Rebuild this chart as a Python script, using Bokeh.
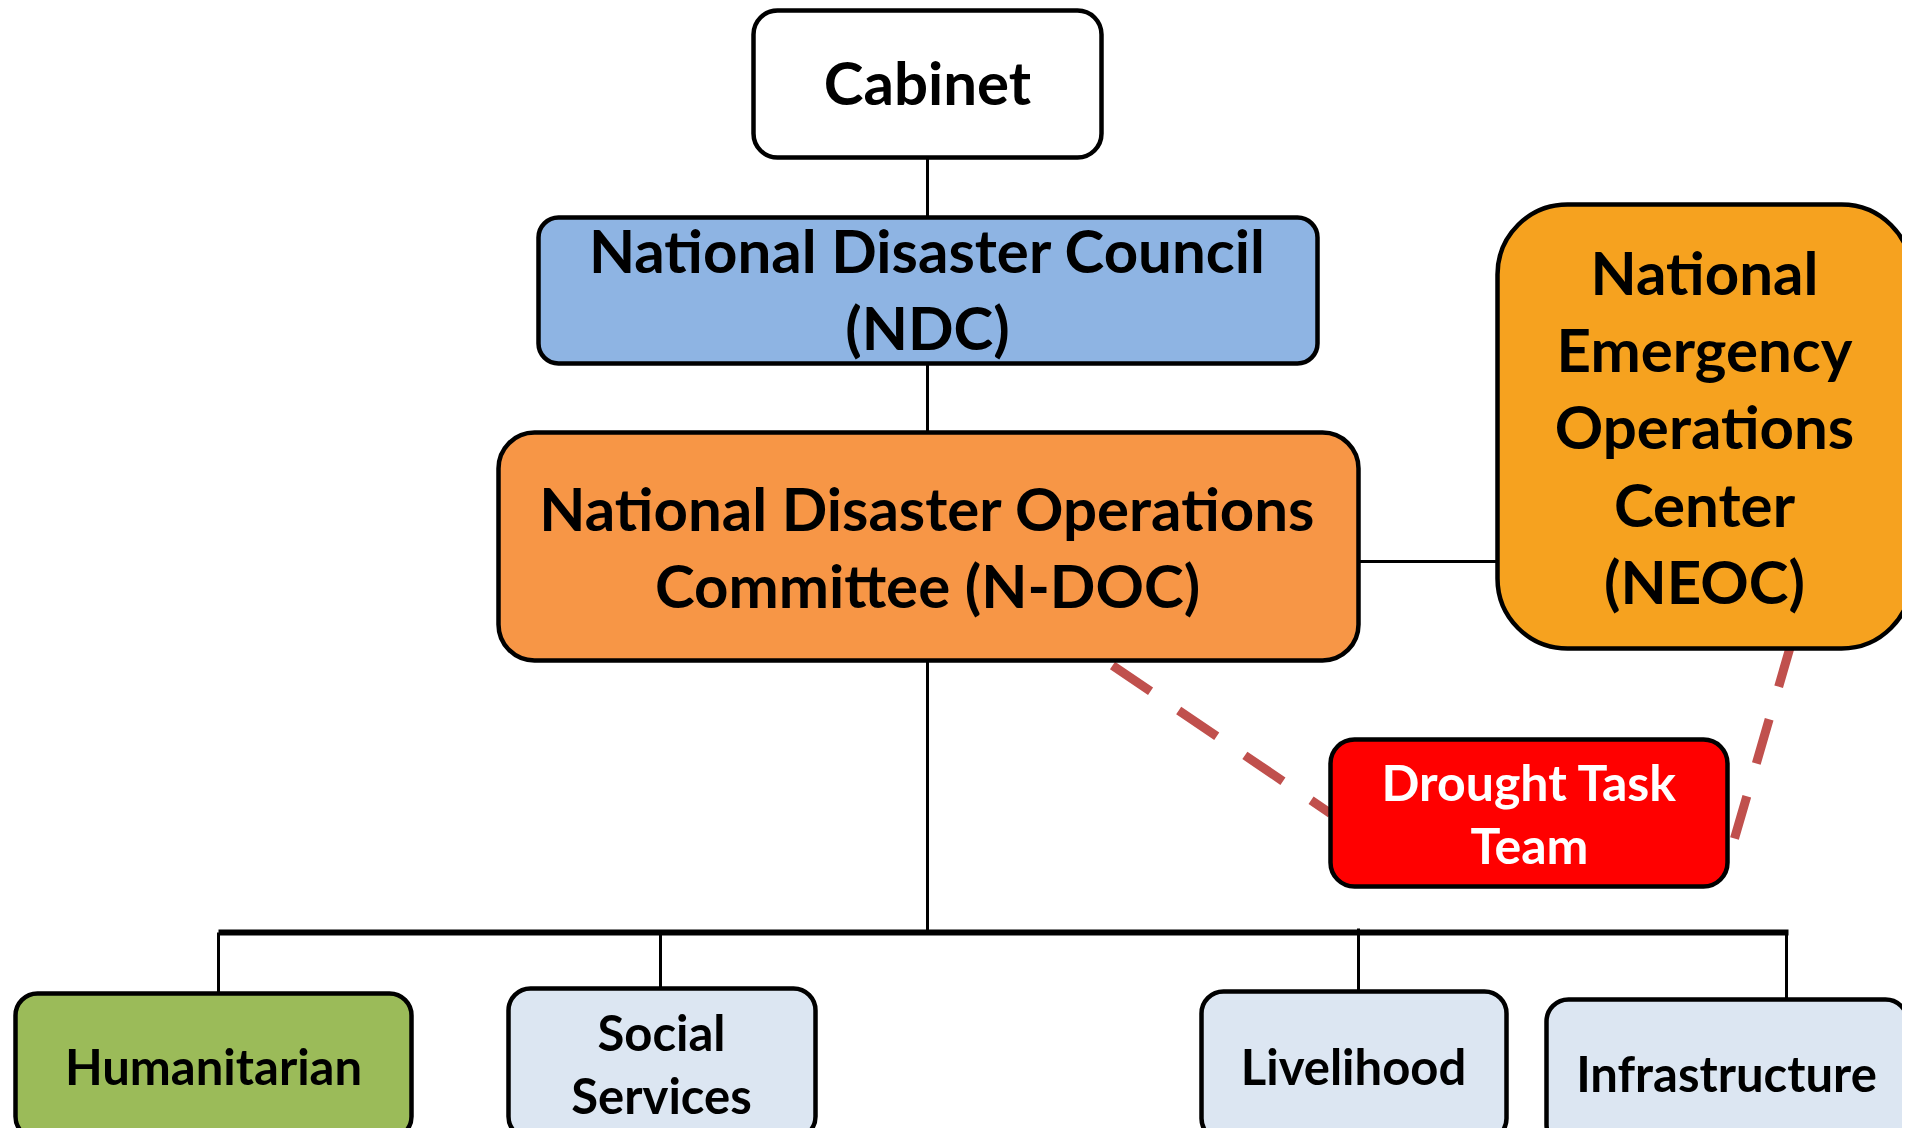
from bokeh.plotting import figure
from bokeh.models import Range1d
from bokeh.core.properties import value
from bokeh.embed import file_html
from bokeh.resources import INLINE

# ---- content ----
labels = ["Cabinet",
          "National Disaster Council\n(NDC)",
          "National Disaster Operations\nCommittee (N-DOC)",
          "National\nEmergency\nOperations\nCenter\n(NEOC)",
          "Drought Task\nTeam",
          "Humanitarian",
          "Social\nServices",
          "Livelihood",
          "Infrastructure"]
fills = ["#FFFFFF", "#8EB4E3", "#F79646", "#F6A21F", "#FF0000",
         "#9BBB59", "#DCE6F2", "#DCE6F2", "#DCE6F2"]
text_colors = ["black", "black", "black", "black", "white",
               "black", "black", "black", "black"]

# ---- layout (page pixels) ----
box_left = [753, 538, 498, 1497, 1330, 15, 508, 1201, 1546]
box_right = [1101, 1317, 1358, 1911, 1727, 411, 815, 1506, 1907]
box_top = [10, 217, 432, 204, 739, 993, 988, 991, 999]
box_bottom = [157, 363, 660, 648, 886, 1138, 1138, 1140, 1146]
radius = [24, 20, 36, 70, 24, 22, 22, 22, 22]
text_x = [927, 927, 927, 1704, 1529, 213, 661, 1353, 1726]
text_y = [81, 288, 546, 426, 813, 1065, 1063, 1065, 1072]
font_px = [60, 60, 60, 60, 50, 49, 49, 49, 49]
line_h = [1.06, 1.06, 1.06, 1.07, 1.06, 1.1, 1.1, 1.1, 1.1]

W, H = 1902, 1128
p = figure(width=W, height=H, x_range=Range1d(0, W), y_range=Range1d(H, 0),
           output_backend="svg", toolbar_location=None,
           x_axis_type=None, y_axis_type=None, min_border=0)
p.grid.visible = False
p.outline_line_color = None
p.background_fill_color = "white"
p.border_fill_color = "white"

# solid connectors
sx0 = [927, 927, 927, 1358, 218, 218, 660, 1358, 1786]
sy0 = [157, 363, 660, 561, 932, 932, 932, 928, 932]
sx1 = [927, 927, 927, 1497, 1788, 218, 660, 1358, 1786]
sy1 = [217, 432, 932, 561, 932, 993, 988, 991, 999]
sw = [3, 3, 3, 3, 6, 3, 3, 3, 3]
p.segment(x0=sx0, y0=sy0, x1=sx1, y1=sy1, line_color="black", line_width=sw)

# dashed connectors to the Drought Task Team
p.segment(x0=[1112, 1791], y0=[665, 642], x1=[1330, 1734], y1=[813, 838],
          line_color="#C0504D", line_width=9, line_dash="46 34")

# boxes
for i in range(len(labels)):
    p.quad(left=box_left[i], right=box_right[i], top=box_top[i], bottom=box_bottom[i],
           fill_color=fills[i], line_color="black", line_width=4.5,
           border_radius=radius[i])

for i in range(len(labels)):
    p.text(x=[text_x[i]], y=[text_y[i]], text=[labels[i]],
           text_font=value("Lato"), text_font_style="bold",
           text_font_size=f"{font_px[i]}px", text_color=text_colors[i],
           text_align="center", text_baseline="middle",
           text_line_height=line_h[i])

open("out.html", "w").write(file_html(p, INLINE))
